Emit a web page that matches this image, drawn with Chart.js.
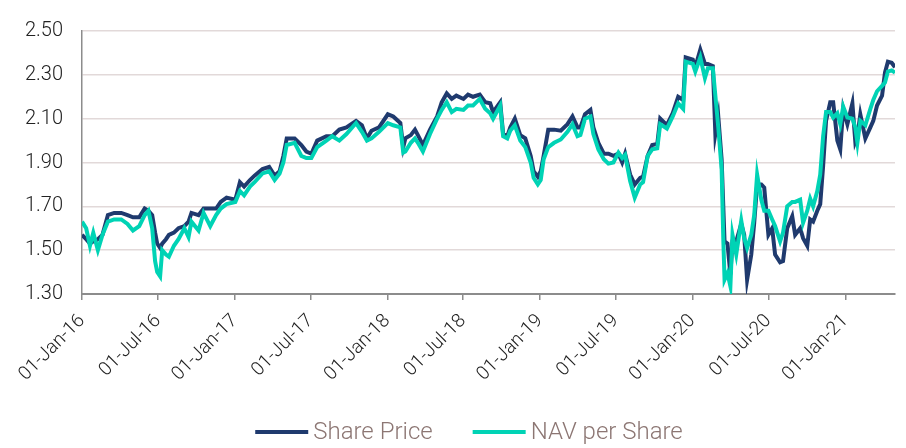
<!DOCTYPE html>
<html>
<head>
<meta charset="utf-8">
<script src="https://cdn.jsdelivr.net/npm/chart.js@4.4.1/dist/chart.umd.min.js"></script>
<style>
  html, body { margin: 0; padding: 0; background: #fff; }
  #wrap { width: 906px; height: 448px; }
</style>
</head>
<body>
<div id="wrap"><canvas id="myChart" width="906" height="448"></canvas></div>
<script>
// dates (roughly every 1-2 weeks, denser where it moves a lot)
var dates = [
  "2016-01-01","2016-01-11","2016-01-20","2016-01-28","2016-02-08","2016-02-19","2016-03-03","2016-03-18",
  "2016-04-04","2016-04-19","2016-05-02","2016-05-17","2016-05-30","2016-06-08","2016-06-17","2016-06-24",
  "2016-06-29","2016-07-06","2016-07-11","2016-07-20","2016-07-27","2016-08-08","2016-08-19","2016-09-02",
  "2016-09-12","2016-09-19","2016-10-06","2016-10-18","2016-11-03","2016-11-17","2016-11-28","2016-12-12",
  "2017-01-02","2017-01-13","2017-01-23","2017-02-06","2017-02-17","2017-03-08","2017-03-24","2017-04-06",
  "2017-04-18","2017-04-27","2017-05-05","2017-05-24","2017-06-09","2017-06-21","2017-07-03","2017-07-17",
  "2017-08-08","2017-08-22","2017-09-08","2017-09-25","2017-10-18","2017-11-01","2017-11-13","2017-11-24",
  "2017-12-12","2018-01-02","2018-01-15","2018-02-01","2018-02-08","2018-02-13","2018-02-26","2018-03-08",
  "2018-03-15","2018-03-27","2018-04-13","2018-04-30","2018-05-11","2018-05-23","2018-06-04","2018-06-15",
  "2018-07-02","2018-07-13","2018-07-25","2018-08-10","2018-08-23","2018-09-04","2018-09-11","2018-09-28",
  "2018-10-05","2018-10-15","2018-10-22","2018-11-02","2018-11-15","2018-11-27","2018-12-10","2018-12-17",
  "2018-12-27","2019-01-03","2019-01-10","2019-01-21","2019-02-04","2019-02-20","2019-03-08","2019-03-20",
  "2019-04-01","2019-04-08","2019-04-19","2019-05-02","2019-05-09","2019-05-21","2019-06-03","2019-06-14",
  "2019-06-26","2019-07-08","2019-07-17","2019-07-24","2019-08-05","2019-08-16","2019-08-29","2019-09-05",
  "2019-09-16","2019-09-27","2019-10-09","2019-10-16","2019-11-01","2019-11-15","2019-11-28","2019-12-10",
  "2019-12-16","2020-01-02","2020-01-08","2020-01-20","2020-01-31","2020-02-07","2020-02-19","2020-02-25",
  "2020-03-03","2020-03-11","2020-03-15","2020-03-18","2020-03-25","2020-04-01","2020-04-06","2020-04-15",
  "2020-04-27","2020-05-04","2020-05-11","2020-05-21","2020-05-28","2020-06-04","2020-06-14","2020-06-21",
  "2020-07-01","2020-07-10","2020-07-17","2020-07-29","2020-08-05","2020-08-15","2020-08-27","2020-09-03",
  "2020-09-15","2020-09-22","2020-10-02","2020-10-09","2020-10-16","2020-10-26","2020-11-02","2020-11-09",
  "2020-11-16","2020-11-26","2020-12-03","2020-12-13","2020-12-20","2020-12-27","2021-01-06","2021-01-18",
  "2021-01-25","2021-01-30","2021-02-06","2021-02-18","2021-03-02","2021-03-09","2021-03-18","2021-03-30",
  "2021-04-06","2021-04-13","2021-04-22","2021-04-30"
];

var sharePrice = [
  1.57,1.55,1.53,1.54,1.55,1.57,1.66,1.67,
  1.67,1.66,1.65,1.65,1.69,1.68,1.66,1.58,
  1.53,1.51,1.53,1.55,1.57,1.58,1.60,1.61,
  1.63,1.67,1.66,1.69,1.69,1.69,1.72,1.74,
  1.73,1.81,1.79,1.82,1.84,1.87,1.88,1.84,
  1.86,1.93,2.01,2.01,1.98,1.95,1.94,2.00,
  2.02,2.02,2.05,2.06,2.09,2.07,2.01,2.045,
  2.06,2.12,2.11,2.08,1.97,2.01,2.025,2.05,
  2.025,1.98,2.05,2.11,2.175,2.215,2.19,2.205,
  2.19,2.21,2.20,2.21,2.175,2.17,2.13,2.175,
  2.03,2.02,2.06,2.10,2.025,2.01,1.93,1.86,
  1.835,1.86,1.93,2.05,2.05,2.045,2.075,2.11,
  2.06,2.06,2.12,2.14,2.06,1.99,1.94,1.94,
  1.93,1.94,1.90,1.94,1.845,1.80,1.83,1.835,
  1.93,1.98,1.985,2.10,2.07,2.125,2.20,2.185,
  2.38,2.37,2.335,2.415,2.35,2.35,2.34,2.03,
  2.11,1.915,1.70,1.54,1.53,1.39,1.54,1.54,
  1.62,1.57,1.365,1.48,1.625,1.80,1.80,1.785,
  1.57,1.60,1.48,1.445,1.45,1.60,1.655,1.57,
  1.60,1.555,1.52,1.64,1.63,1.68,1.71,1.885,
  2.09,2.175,2.175,2.00,1.96,2.145,2.075,2.17,
  1.995,2.02,2.12,2.01,2.06,2.09,2.16,2.205,
  2.31,2.36,2.355,2.335
];

var navPerShare = [
  1.63,1.60,1.52,1.58,1.50,1.57,1.63,1.64,
  1.64,1.62,1.59,1.61,1.66,1.68,1.60,1.45,
  1.40,1.38,1.50,1.48,1.47,1.52,1.55,1.60,
  1.56,1.63,1.59,1.67,1.61,1.66,1.69,1.71,
  1.72,1.77,1.75,1.79,1.81,1.85,1.86,1.82,
  1.85,1.90,1.98,1.99,1.93,1.92,1.92,1.97,
  2.00,2.02,2.00,2.03,2.08,2.04,2.00,2.01,
  2.04,2.08,2.07,2.06,1.945,1.95,1.99,2.01,
  1.99,1.95,2.03,2.10,2.14,2.175,2.13,2.145,
  2.14,2.16,2.16,2.19,2.145,2.125,2.10,2.16,
  2.02,2.01,2.045,2.07,2.00,1.97,1.90,1.83,
  1.80,1.82,1.915,1.97,1.99,2.005,2.04,2.075,
  2.02,2.025,2.10,2.11,2.03,1.96,1.915,1.895,
  1.90,1.945,1.92,1.935,1.815,1.74,1.80,1.81,
  1.93,1.96,1.965,2.075,2.055,2.11,2.17,2.145,
  2.36,2.35,2.315,2.38,2.285,2.33,2.33,2.205,
  2.06,1.87,1.55,1.365,1.395,1.335,1.57,1.48,
  1.635,1.555,1.51,1.57,1.66,1.845,1.73,1.68,
  1.68,1.64,1.61,1.54,1.58,1.70,1.72,1.72,
  1.73,1.625,1.68,1.735,1.70,1.77,1.845,2.02,
  2.13,2.13,2.105,2.125,2.075,2.155,2.105,2.10,
  2.06,1.99,2.09,2.07,2.145,2.185,2.225,2.25,
  2.265,2.315,2.32,2.31
];

var seriesNames = ["Share Price", "NAV per Share"];
var seriesColors = ["#1f3a6e", "#00d3b5"];

var xTickDates = ["2016-01-01","2016-07-01","2017-01-01","2017-07-01","2018-01-01","2018-07-01",
  "2019-01-01","2019-07-01","2020-01-01","2020-07-01","2021-01-01"];
var xTickLabels = ["01-Jan-16","01-Jul-16","01-Jan-17","01-Jul-17","01-Jan-18","01-Jul-18",
  "01-Jan-19","01-Jul-19","01-Jan-20","01-Jul-20","01-Jan-21"];
var yTicks = [1.30, 1.50, 1.70, 1.90, 2.10, 2.30, 2.50];

var startDate = "2016-01-01";
var endDate = "2021-04-30";
var fontFamily = "Roboto, 'Liberation Sans', sans-serif";

// days since 01-Jan-16, used as the x value
function toDays(s) {
  var p = s.split("-");
  return (Date.UTC(+p[0], +p[1] - 1, +p[2]) - Date.UTC(2016, 0, 1)) / 86400000;
}

function toPoints(values) {
  return dates.map(function (d, i) { return { x: toDays(d), y: values[i] }; });
}

// legend drawn under the axis labels, line + text like the original
var bottomLegend = {
  id: "bottomLegend",
  afterDraw: function (chart) {
    var ctx = chart.ctx;
    var lineLen = 53, gap = 5, itemGap = 40, y = 432;
    ctx.save();
    ctx.font = "300 24px " + fontFamily;
    var widths = seriesNames.map(function (n) { return lineLen + gap + ctx.measureText(n).width; });
    var total = widths.reduce(function (a, b) { return a + b; }, 0) + itemGap * (widths.length - 1);
    var x = 469 - total / 2;
    seriesNames.forEach(function (name, i) {
      ctx.strokeStyle = seriesColors[i];
      ctx.lineWidth = 4;
      ctx.beginPath();
      ctx.moveTo(x, y);
      ctx.lineTo(x + lineLen, y);
      ctx.stroke();
      ctx.fillStyle = "#8c7673";
      ctx.textBaseline = "middle";
      ctx.textAlign = "left";
      ctx.fillText(name, x + lineLen + gap, y + 1);
      x += widths[i] + itemGap;
    });
    ctx.restore();
  }
};

var ctx = document.getElementById("myChart").getContext("2d");
var chartInstance = new Chart(ctx, {
  type: "line",
  data: {
    datasets: [
      {
        label: seriesNames[0],
        data: toPoints(sharePrice),
        borderColor: seriesColors[0],
        backgroundColor: seriesColors[0],
        borderWidth: 4,
        pointRadius: 0,
        tension: 0,
        order: 1,
      },
      {
        label: seriesNames[1],
        data: toPoints(navPerShare),
        borderColor: seriesColors[1],
        backgroundColor: seriesColors[1],
        borderWidth: 4,
        pointRadius: 0,
        tension: 0,
        order: 0,
      },
    ],
  },
  options: {
    responsive: false,
    animation: false,
    layout: { padding: { top: 19, right: 11, bottom: 0, left: 0 } },
    plugins: {
      legend: { display: false },
      tooltip: { enabled: false },
    },
    scales: {
      x: {
        type: "linear",
        min: toDays(startDate),
        max: toDays(endDate),
        afterBuildTicks: function (scale) {
          scale.ticks = xTickDates.map(function (d) { return { value: toDays(d) }; });
        },
        afterFit: function (scale) { scale.height = 154; },
        grid: { drawOnChartArea: false, drawTicks: true, tickLength: 6, color: "#8c8c8c", lineWidth: 1.5 },
        border: { color: "#8c8c8c", width: 2 },
        ticks: {
          autoSkip: false,
          minRotation: 45,
          maxRotation: 45,
          padding: 10,
          color: "#222",
          font: { family: fontFamily, size: 19, weight: "300" },
          callback: function (v) {
            var i = xTickDates.findIndex(function (d) { return toDays(d) === v; });
            return i >= 0 ? xTickLabels[i] : "";
          },
        },
      },
      y: {
        min: yTicks[0],
        max: yTicks[yTicks.length - 1],
        afterBuildTicks: function (scale) {
          scale.ticks = yTicks.map(function (v) { return { value: v }; });
        },
        afterFit: function (scale) { scale.width = 82; },
        grid: { color: "#e2d9d9", lineWidth: 1.5, drawTicks: false },
        border: { color: "#8c8c8c", width: 1.5 },
        ticks: {
          padding: 19,
          color: "#222",
          font: { family: fontFamily, size: 20, weight: "300" },
          callback: function (v) { return v.toFixed(2); },
        },
      },
    },
  },
  plugins: [bottomLegend],
});
</script>
</body>
</html>
